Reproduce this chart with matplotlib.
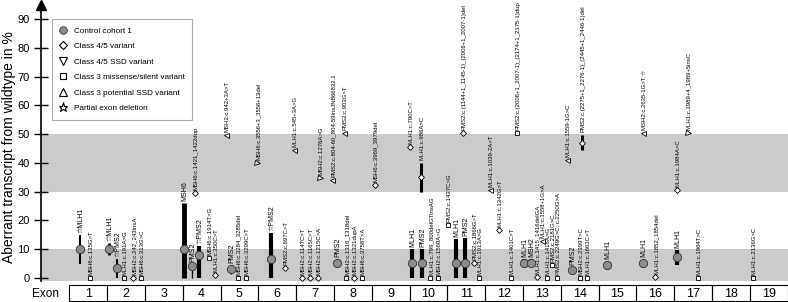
import matplotlib
matplotlib.use('Agg')
import matplotlib.pyplot as plt
from matplotlib.lines import Line2D
from matplotlib.patches import Rectangle

plt.rcParams['font.family'] = ['Liberation Sans', 'DejaVu Sans']

# control cohort: position along the gene (exon units), mean, range
ctrl_gene = ['MLH1', 'MLH1', 'PMS2', 'MSH6', 'PMS2', 'PMS2', 'PMS2', 'PMS2', 'PMS2', 'MLH1',
             'PMS2', 'MLH1', 'PMS2', 'MLH1', 'MSH2', 'PMS2', 'MLH1', 'MLH1', 'MLH1']
ctrl_x = [0.79, 1.56, 1.77, 3.54, 3.75, 3.94, 4.78, 5.84, 7.59, 9.57,
          9.84, 10.74, 10.97, 12.53, 12.72, 13.80, 14.73, 15.68, 16.58]
ctrl_y = [10, 10, 3.5, 10, 4, 8, 3, 6.6, 5.2, 5.2, 5.2, 5.2, 5.2, 5.2, 5.2, 2.8, 4.5, 5.2, 7.3]
ctrl_lo = [5, 8, 0, 0, 0, 0, 1.5, 0, 4, 0, 0, 0, 0, 4, 4, 2, 3.5, 4.3, 4.5]
ctrl_hi = [15, 12, 6.5, 26, 5, 11, 4.5, 15.6, 6.5, 10, 10, 13.5, 14, 6.5, 6.5, 3.8, 6, 6.5, 9.7]
ctrl_star = [1, 1, 1, 0, 0, 1, 0, 1, 0, 0, 0, 0, 0, 0, 0, 0, 0, 0, 0]
ctrl_lw = [1.5, 2, 1.5, 3.5, 1, 3, 1, 3, 1, 3, 3, 3, 3, 3, 3, 1, 2.5, 1, 3]

# variants
var_label = ['MSH6:c.135G>T', 'MLH1:c.191A>G', 'MSH2:c.242_243insA', 'MSH6:c.313G>C',
             'MSH6:c.1421_1422dup', 'MSH6:c.1914T>G', 'MLH1:c.350C>T', 'MSH2:c.942+3A>T',
             'MSH6:c.3284_3285del', 'MSH6:c.3299C>T', 'MSH6:c.3556+3_3556+13del', 'PMS2:c.697C>T',
             'MLH1:c.545+3A>G', 'MSH2:c.1147C>T', 'MSH2:c.1165C>T', 'MSH2:c.1215C>A',
             'MSH2:c.1276A>G', 'PMS2:c.804-60_804-59insJN866832.1', 'PMS2:c.903G>T',
             'MSH2:c.1316_1318del', 'MSH2:c.1321dupA', 'MSH6:c.3758T>A', 'MSH6:c.3969_3979del',
             'MLH1:c.790C>T', 'MLH1:c.986A>C', 'MLH1:c.799_800delGTinsAG', 'MSH2:c.1560A>G',
             'PMS2:c.1437C>G', 'PMS2:c.(1144+1_1145-1)_(2006+1_2007-1)del', 'PMS2:c.1866G>T',
             'MLH1:c.1013A>G', 'MLH1:c.1039-2A>T', 'MLH1:c.1342G>T', 'MLH1:c.1401C>T',
             'PMS2:c.(2006+1_2007-1)_(2174+1_2175-1)dup', 'MLH1:c.1415_1416delGA',
             'MLH1:c.1558+1G>A', 'MLH1:c.1418A>G', 'PMS2:c.2181G>C', 'PMS2:c.2249G>C; c.2250G>A',
             'MLH1:c.1559-1G>C', 'MSH2:c.2399T>C', 'PMS2:c.(2275+1_2276-1)_(2445+1_2446-1)del',
             'MLH1:c.1663C>T', 'MSH2:c.2635-1G>T ☆', 'MLH1:c.1852_1854del', 'MLH1:c.1984A>C',
             'MLH1:c.1989+4_1989+5insC', 'MLH1:c.1964T>C', 'MLH1:c.2136G>C']
var_x = [1.05, 1.95, 2.19, 2.40, 3.83, 4.20, 4.36, 4.65, 4.96, 5.18, 5.47, 6.21,
         6.45, 6.66, 6.87, 7.08, 7.14, 7.46, 7.77, 7.83, 8.04, 8.25, 8.59, 9.52, 9.81,
         10.05, 10.26, 10.52, 10.92, 11.21, 11.34, 11.63, 11.87, 12.19, 12.35, 12.87,
         13.00, 13.14, 13.27, 13.40, 13.67, 14.02, 14.07, 14.20, 15.68, 16.0, 16.58,
         16.87, 17.14, 18.59]
var_y = [0, 0, 0, 0, 29.5, 7, 1, 49.7, 0, 0, 40, 3.5, 44.5, 0, 0, 0, 34.7, 34, 50.4,
         0, 0, 0, 32.3, 45.5, 35, 0, 0, 18.4, 50.4, 5.2, 0, 30.6, 16.7, 0, 50.4, 0.4,
         12.7, 0, 4.5, 0, 41, 0, 47, 0, 50.3, 0.4, 30.6, 50.4, 0, 0]
var_cls = ['3', '3', '4/5', '3', '4/5', '3', '4/5', 'SSD', '3', '3', 'pSSD', '4/5',
           'SSD', '4/5', '4/5', '4/5', 'pSSD', 'SSD', 'SSD', '3', '4/5', '3', '4/5', '4/5', '4/5',
           '3', '3', '3', '4/5', '4/5', '3', 'SSD', '4/5', '3', '3', '4/5',
           'SSD', '3', '3', '3', 'SSD', '3', '4/5', '3', 'SSD', '4/5', '4/5', 'pSSD', '3', '3']
# variants that carry a range
var_range = {'MLH1:c.986A>C': (30, 40),
             'PMS2:c.(2275+1_2276-1)_(2445+1_2446-1)del': (44.5, 49.7)}

exon_labels = [str(i) for i in range(1, 20)]
yticks = list(range(0, 91, 10))

markers = {'4/5': 'D', 'SSD': '<', '3': 's', 'pSSD': '>'}
msizes = {'4/5': 3, 'SSD': 3.6, '3': 3.2, 'pSSD': 3.6}

fig = plt.figure(figsize=(7.88, 3.02), dpi=100)
ax = fig.add_axes([41 / 788, 21 / 302, 746.5 / 788, 276 / 302])
ax.set_xlim(-0.25, 19.5)
ax.set_ylim(-1.04, 94.86)

ax.axhspan(-1.04, 10, color='#cbcbcb', lw=0, zorder=0)
ax.axhspan(30, 50, color='#cbcbcb', lw=0, zorder=0)

for s in ['top', 'right', 'bottom']:
    ax.spines[s].set_visible(False)
ax.spines['left'].set_linewidth(1.2)
ax.set_xticks([])
ax.set_yticks(yticks)
ax.tick_params(axis='y', direction='inout', length=10.5, width=1, labelsize=8, pad=3)
ax.plot([0], [1], marker='^', ms=7, color='black', transform=ax.transAxes, clip_on=False)

fig.text(9 / 788, 0.513, 'Aberrant transcript from wildtype in %', rotation=90,
         ha='center', va='center', fontsize=10)

# control cohort
for g, x, y, lo, hi, st, lw in zip(ctrl_gene, ctrl_x, ctrl_y, ctrl_lo, ctrl_hi, ctrl_star, ctrl_lw):
    ax.plot([x, x], [lo, hi], color='black', lw=lw, solid_capstyle='butt', zorder=3)
    ax.plot(x, y, 'o', ms=6, mfc='#8c8c8c', mec='#333333', mew=0.6, zorder=4)
    lab = ('☆' if st else '') + g
    ax.annotate(lab, (x, hi), xytext=(0.5, 1.5), textcoords='offset points', rotation=90,
                ha='center', va='bottom', fontsize=5)

# variants
for lab, x, y, c in zip(var_label, var_x, var_y, var_cls):
    top = y
    if lab in var_range:
        lo, hi = var_range[lab]
        ax.plot([x, x], [lo, hi], color='black', lw=2.2, solid_capstyle='butt', zorder=3)
        top = hi
    ax.plot(x, y, marker=markers[c], ms=msizes[c], mfc='white', mec='black', mew=0.6,
            zorder=5, clip_on=False)
    ax.annotate(lab, (x, top), xytext=(0.5, 2.2), textcoords='offset points', rotation=90,
                ha='center', va='bottom', fontsize=4.3)

handles = [
    Line2D([], [], ls='', marker='o', ms=5.5, mfc='#8c8c8c', mec='#333333', mew=0.6),
    Line2D([], [], ls='', marker='D', ms=4.2, mfc='white', mec='black', mew=0.8),
    Line2D([], [], ls='', marker='v', ms=5.2, mfc='white', mec='black', mew=0.8),
    Line2D([], [], ls='', marker='s', ms=4.7, mfc='white', mec='black', mew=0.8),
    Line2D([], [], ls='', marker='^', ms=5.2, mfc='white', mec='black', mew=0.8),
    Line2D([], [], ls='', marker='*', ms=6.5, mfc='white', mec='black', mew=0.8),
]
labels = ['Control cohort 1', 'Class 4/5 variant', 'Class 4/5 SSD variant',
          'Class 3 missense/silent variant', 'Class 3 potential SSD variant',
          'Partial exon deletion']
leg = ax.legend(handles, labels, loc='upper left', bbox_to_anchor=(52 / 788, 1 - 19 / 302),
                bbox_transform=fig.transFigure, fontsize=5.9, frameon=True, fancybox=False,
                framealpha=1, edgecolor='#b0b0b0', borderpad=0.95, labelspacing=0.95,
                handlelength=0.9, handletextpad=0.78, borderaxespad=0)
leg.get_frame().set_linewidth(0.8)

# exon row
ax2 = fig.add_axes([41 / 788, 1 / 302, 746.5 / 788, 16 / 302])
ax2.set_xlim(-0.25, 19.5)
ax2.set_ylim(0, 1)
ax2.axis('off')
for i, name in enumerate(exon_labels):
    ax2.add_patch(Rectangle((i + 0.5, 0), 1, 1, fill=False, lw=0.8, ec='black', clip_on=False))
    ax2.text(i + 1, 0.45, name, ha='center', va='center', fontsize=9)
ax2.text(-0.14, 0.45, 'Exon', ha='center', va='center', fontsize=8.5)

fig.savefig('out.png', dpi=100)
